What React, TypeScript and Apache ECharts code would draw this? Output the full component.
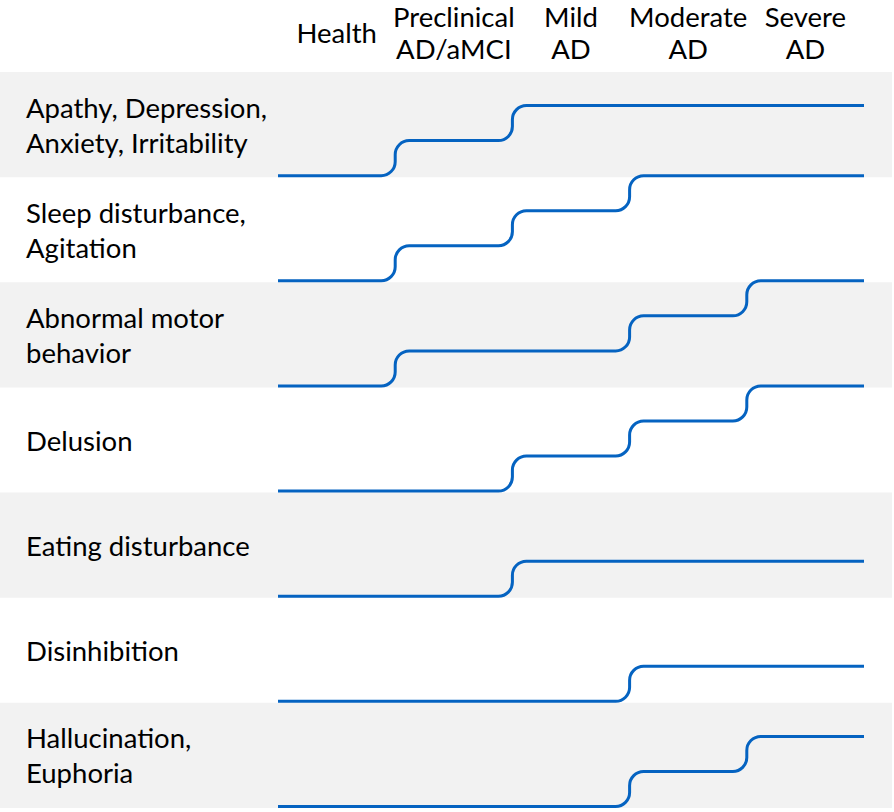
import React, { useEffect, useRef } from "react";
import * as echarts from "echarts";

// Disease stages (column headers)
const STAGES = ["Health", "Preclinical\nAD/aMCI", "Mild\nAD", "Moderate\nAD", "Severe\nAD"];

// Symptom groups (row labels)
const SYMPTOMS = [
  "Apathy, Depression,\nAnxiety, Irritability",
  "Sleep disturbance,\nAgitation",
  "Abnormal motor\nbehavior",
  "Delusion",
  "Eating disturbance",
  "Disinhibition",
  "Hallucination,\nEuphoria",
];

// Symptom level per stage (0 = baseline, 3 = top of row)
const APATHY_LEVELS = [0, 1, 2, 2, 2];
const SLEEP_LEVELS = [0, 1, 2, 3, 3];
const MOTOR_LEVELS = [0, 1, 1, 2, 3];
const DELUSION_LEVELS = [0, 0, 1, 2, 3];
const EATING_LEVELS = [0, 0, 1, 1, 1];
const DISINHIBITION_LEVELS = [0, 0, 0, 1, 1];
const HALLUCINATION_LEVELS = [0, 0, 0, 1, 2];

const LEVELS = [
  APATHY_LEVELS,
  SLEEP_LEVELS,
  MOTOR_LEVELS,
  DELUSION_LEVELS,
  EATING_LEVELS,
  DISINHIBITION_LEVELS,
  HALLUCINATION_LEVELS,
];
const MAX_LEVEL = 3;

const FONT = "Lato";
const FONT_SIZE = 27.5;
const LINE_COLOR = "#0563C1";
const BAND_COLOR = "#f2f2f2";

export default function App() {
  const ref = useRef<HTMLDivElement>(null);

  useEffect(() => {
    document.body.style.margin = "0";
    const chart = echarts.init(ref.current as HTMLDivElement, null, { renderer: "svg" });

    const rowData = SYMPTOMS.map((_, i) => [0, i]);

    const renderBand = (params: any, api: any) => {
      const row = api.value(1);
      if (row % 2 !== 0) return { type: "group", children: [] };
      const top = api.coord([0, row])[1];
      const bot = api.coord([0, row + 1])[1];
      return {
        type: "rect",
        shape: { x: 0, y: top, width: api.getWidth() - 2, height: bot - top },
        style: { fill: BAND_COLOR },
      };
    };

    const renderSteps = (params: any, api: any) => {
      const row = api.value(1);
      const lv = LEVELS[row];
      const n = lv.length;
      const yOf = (L: number) => api.coord([0, row + 1 - L / MAX_LEVEL])[1] - 1.5;
      const xOf = (s: number) => api.coord([s, 0])[0];
      let d = `M${xOf(0)},${yOf(lv[0])}`;
      for (let s = 1; s < n; s++) {
        if (lv[s] !== lv[s - 1]) {
          const xb = xOf(s);
          const y0 = yOf(lv[s - 1]);
          const y1 = yOf(lv[s]);
          const r = Math.min(14, Math.abs(y1 - y0) / 2.4);
          const dir = y1 < y0 ? -1 : 1;
          const k = 0.55 * r;
          d +=
            ` L${xb - r},${y0}` +
            ` C${xb - r + k},${y0} ${xb},${y0 + dir * (r - k)} ${xb},${y0 + dir * r}` +
            ` L${xb},${y1 - dir * r}` +
            ` C${xb},${y1 - dir * (r - k)} ${xb + r - k},${y1} ${xb + r},${y1}`;
        }
      }
      d += ` L${xOf(n)},${yOf(lv[n - 1])}`;
      return {
        type: "path",
        shape: { pathData: d },
        style: { stroke: LINE_COLOR, lineWidth: 3, fill: "none", lineCap: "butt" },
      };
    };

    const option = {
      animation: false,
      backgroundColor: "#ffffff",
      grid: { left: 278, right: 30, top: 72, bottom: 4, containLabel: false, outerBoundsMode: "none" },
      xAxis: [
        {
          type: "category",
          data: STAGES,
          position: "top",
          axisLine: { show: false },
          axisTick: { show: false },
          splitLine: { show: false },
          axisLabel: {
            interval: 0,
            color: "#000",
            fontFamily: FONT,
            fontSize: FONT_SIZE,
            lineHeight: 32,
            margin: 40,
            verticalAlign: "middle",
          },
        },
        { type: "value", min: 0, max: STAGES.length, show: false },
      ],
      yAxis: [
        {
          type: "category",
          data: SYMPTOMS,
          inverse: true,
          axisLine: { show: false },
          axisTick: { show: false },
          splitLine: { show: false },
          axisLabel: {
            interval: 0,
            color: "#000",
            fontFamily: FONT,
            fontSize: FONT_SIZE,
            lineHeight: 35,
            margin: 252,
            align: "left",
            padding: [0, 0, 2, 0],
          },
        },
        { type: "value", min: 0, max: SYMPTOMS.length, inverse: true, show: false },
      ],
      series: [
        {
          type: "custom",
          xAxisIndex: 1,
          yAxisIndex: 1,
          data: rowData,
          renderItem: renderBand,
          z: 0,
          silent: true,
        },
        {
          type: "custom",
          xAxisIndex: 1,
          yAxisIndex: 1,
          data: rowData,
          renderItem: renderSteps,
          z: 2,
          silent: true,
        },
      ],
    };

    chart.setOption(option as any);
    return () => chart.dispose();
  }, []);

  return <div ref={ref} style={{ width: 894, height: 812 }} />;
}
